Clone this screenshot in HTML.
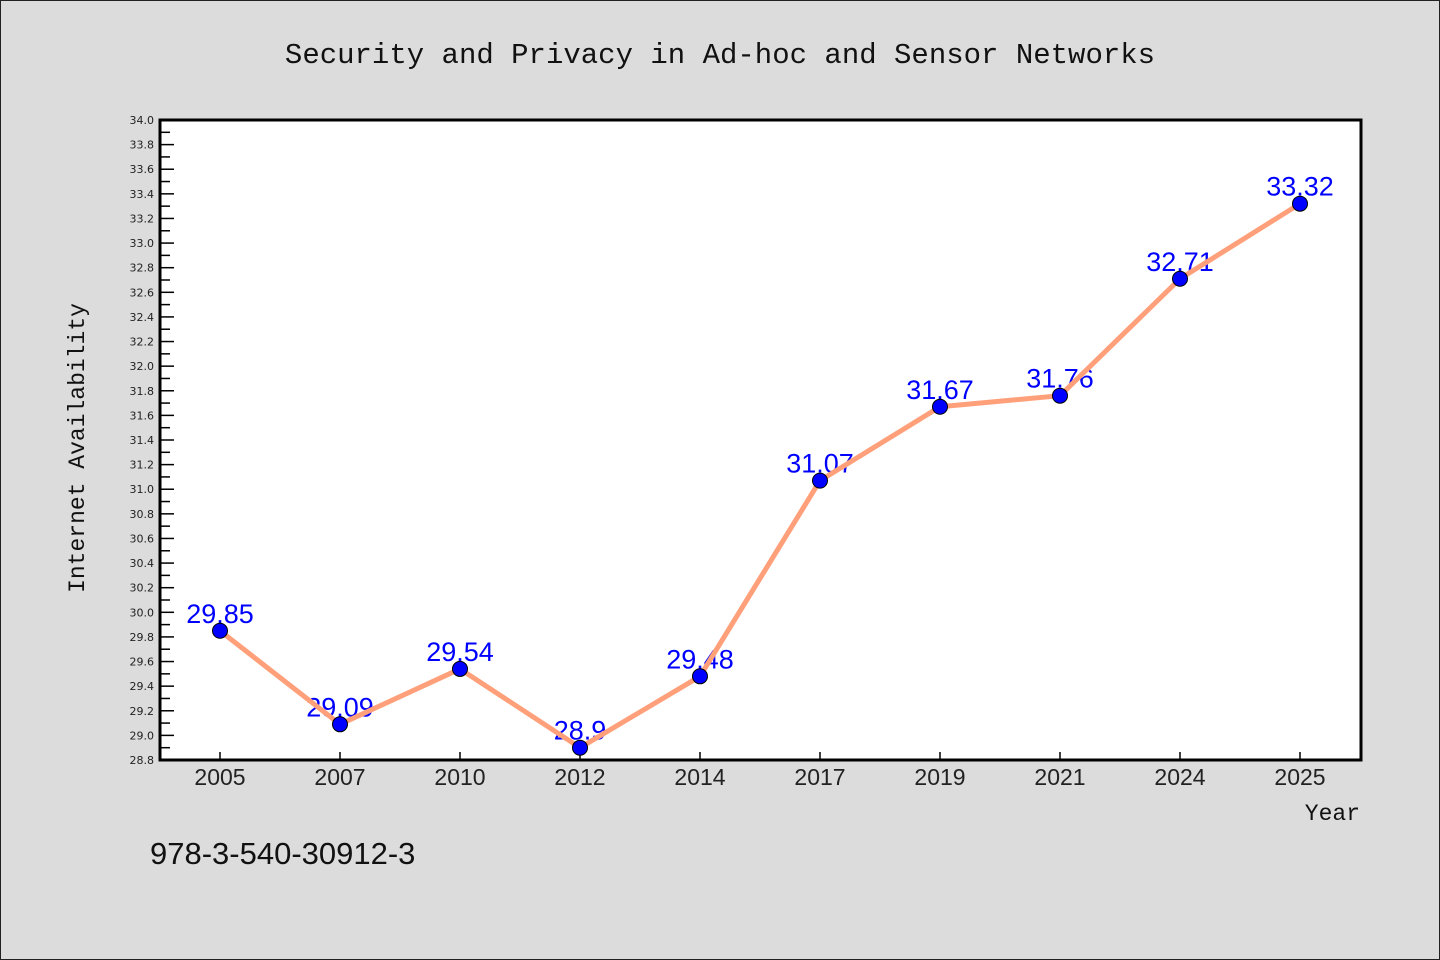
<!DOCTYPE html>
<html><head><meta charset="utf-8"><style>
html,body{margin:0;padding:0;background:#dcdcdc;}
svg{display:block;}
</style></head><body>
<svg width="1440" height="960" xmlns="http://www.w3.org/2000/svg">
<rect x="0.5" y="0.5" width="1439" height="959" fill="#dcdcdc" stroke="#222"/>
<text x="720" y="63" text-anchor="middle" font-family="Liberation Mono, monospace" font-size="29" fill="#111">Security and Privacy in Ad-hoc and Sensor Networks</text>
<rect x="160" y="120" width="1201" height="640" fill="#fff"/>
<g id="axes"></g>
<g id="marks"></g>
<rect x="160" y="120" width="1201" height="640" fill="none" stroke="#000" stroke-width="3"/>
<text transform="translate(84,448) rotate(-90)" text-anchor="middle" font-family="Liberation Mono, monospace" font-size="23" fill="#111">Internet Availability</text>
<text x="1360" y="820" text-anchor="end" font-family="Liberation Mono, monospace" font-size="23" fill="#111">Year</text>
<text x="150" y="864" font-family="Liberation Sans, sans-serif" font-size="31" fill="#111">978-3-540-30912-3</text>
</svg>
<script>
const categories=["2005","2007","2010","2012","2014","2017","2019","2021","2024","2025"];
const values=[29.85,29.09,29.54,28.9,29.48,31.07,31.67,31.76,32.71,33.32];
const valueLabels=["29.85","29.09","29.54","28.9","29.48","31.07","31.67","31.76","32.71","33.32"];
const yMin=28.8,yMax=34.0;
const NS="http://www.w3.org/2000/svg";
const L=160,R=1360,T=120,B=760;
function y(v){return B-(v-yMin)/(yMax-yMin)*(B-T);}
function x(i){const w=(R-L)/categories.length;return L+w*(i+0.5);}
function mk(tag,attrs,parent){const e=document.createElementNS(NS,tag);for(const k in attrs)e.setAttribute(k,attrs[k]);parent.appendChild(e);return e;}
const axes=document.getElementById('axes'),marks=document.getElementById('marks');
for(let k=0;k<=52;k++){
  const v=yMin+k*0.1,yy=y(v),major=k%2===0;
  const t=mk('line',{x1:L,x2:L+(major?14:10),y1:yy,y2:yy,stroke:'#000','stroke-width':1.5},axes);
  
  
  if(major){
    const tx=mk('text',{x:L-6,y:yy+4,'text-anchor':'end','font-family':'DejaVu Sans, sans-serif','font-size':11,fill:'#222'},axes);
    tx.textContent=v.toFixed(1);
    
    
  }
}
categories.forEach((c,i)=>{
  const t=mk('line',{x1:x(i),x2:x(i),y1:B,y2:B-8,stroke:'#000','stroke-width':1.5},axes);
  
  
  const tx=mk('text',{x:x(i),y:B+25,'text-anchor':'middle','font-family':'Liberation Sans, sans-serif','font-size':23,fill:'#222'},axes);
  tx.textContent=c;
  
  
});
values.forEach((v,i)=>{
  const tx=mk('text',{x:x(i),y:y(v)-8,'text-anchor':'middle','font-family':'Liberation Sans, sans-serif','font-size':27,fill:'#0000ff'},marks);
  tx.textContent=valueLabels[i];
  
  
});
const line=mk('polyline',{points:values.map((v,i)=>x(i)+','+y(v)).join(' '),fill:'none',stroke:'#ffa07a','stroke-width':5,'stroke-linejoin':'round'},marks);


values.forEach((v,i)=>{
  const c=mk('circle',{cx:x(i),cy:y(v),r:7.5,fill:'#0000ff',stroke:'#000','stroke-width':1},marks);
  
  
});
</script>
</body></html>
